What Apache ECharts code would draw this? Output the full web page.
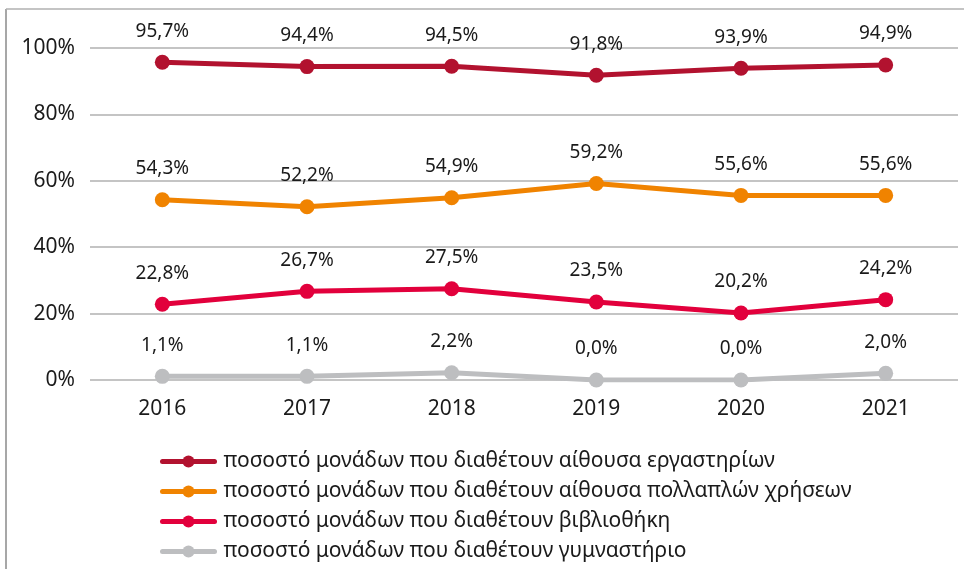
<!DOCTYPE html>
<html><head><meta charset="utf-8">
<script src="https://cdn.jsdelivr.net/npm/echarts@6/dist/echarts.min.js"></script>
<style>html,body{margin:0;padding:0;background:#fff}#c{width:964px;height:569px}</style>
</head><body><div id="c"></div>
<script>
const years = ['2016','2017','2018','2019','2020','2021'];
const labs = [95.7, 94.4, 94.5, 91.8, 93.9, 94.9];
const multi = [54.3, 52.2, 54.9, 59.2, 55.6, 55.6];
const library = [22.8, 26.7, 27.5, 23.5, 20.2, 24.2];
const gym = [1.1, 1.1, 2.2, 0.0, 0.0, 2.0];
const names = [
  'ποσοστό μονάδων που διαθέτουν αίθουσα εργαστηρίων',
  'ποσοστό μονάδων που διαθέτουν αίθουσα πολλαπλών χρήσεων',
  'ποσοστό μονάδων που διαθέτουν βιβλιοθήκη',
  'ποσοστό μονάδων που διαθέτουν γυμναστήριο'
];
const colors = ['#B2122F', '#F08300', '#E2003C', '#BDBEC0'];
const FONT = 'Noto Sans';
const chart = echarts.init(document.getElementById('c'));
function mk(i, data){
  return {
    name: names[i], type: 'line', data: data,
    symbol: 'circle', symbolSize: 15,
    lineStyle: {width: 5, color: colors[i]},
    itemStyle: {color: colors[i]},
    label: {show: true, position: 'top', distance: 14, color: '#1a1a1a', fontSize: 19, fontFamily: FONT,
      formatter: p => p.value.toFixed(1).replace('.', ',') + '%'},
    animation: false
  };
}
chart.setOption({
  animation: false,
  textStyle: {fontFamily: FONT},
  grid: {left: 90, right: 6, top: 48, bottom: 189},
  xAxis: {type: 'category', data: years, boundaryGap: true,
    axisLine: {show: false}, axisTick: {show: false},
    axisLabel: {color: '#1a1a1a', fontSize: 21, fontFamily: FONT, margin: 19}},
  yAxis: {type: 'value', min: 0, max: 100, interval: 20,
    axisLine: {show: false}, axisTick: {show: false},
    splitLine: {lineStyle: {color: '#B0B0B0', width: 1.5}},
    axisLabel: {color: '#1a1a1a', fontSize: 21, fontFamily: FONT, margin: 15, formatter: '{value}%'}},
  legend: {orient: 'vertical', left: 155, top: 446, itemWidth: 52, itemHeight: 15, itemGap: 9,
    lineStyle: {width: 5, cap: 'round'},
    textStyle: {fontSize: 21, color: '#1a1a1a', fontFamily: FONT, padding: [0, 0, 0, 4]}, data: names},
  graphic: [
    {type: 'line', shape: {x1: 6, y1: 9, x2: 6, y2: 569}, style: {stroke: '#8a8a8a', lineWidth: 1.5}},
    {type: 'line', shape: {x1: 6, y1: 9, x2: 964, y2: 9}, style: {stroke: '#b0b0b0', lineWidth: 1.5}}
  ],
  series: [mk(0, labs), mk(1, multi), mk(2, library), mk(3, gym)]
});
</script></body></html>
